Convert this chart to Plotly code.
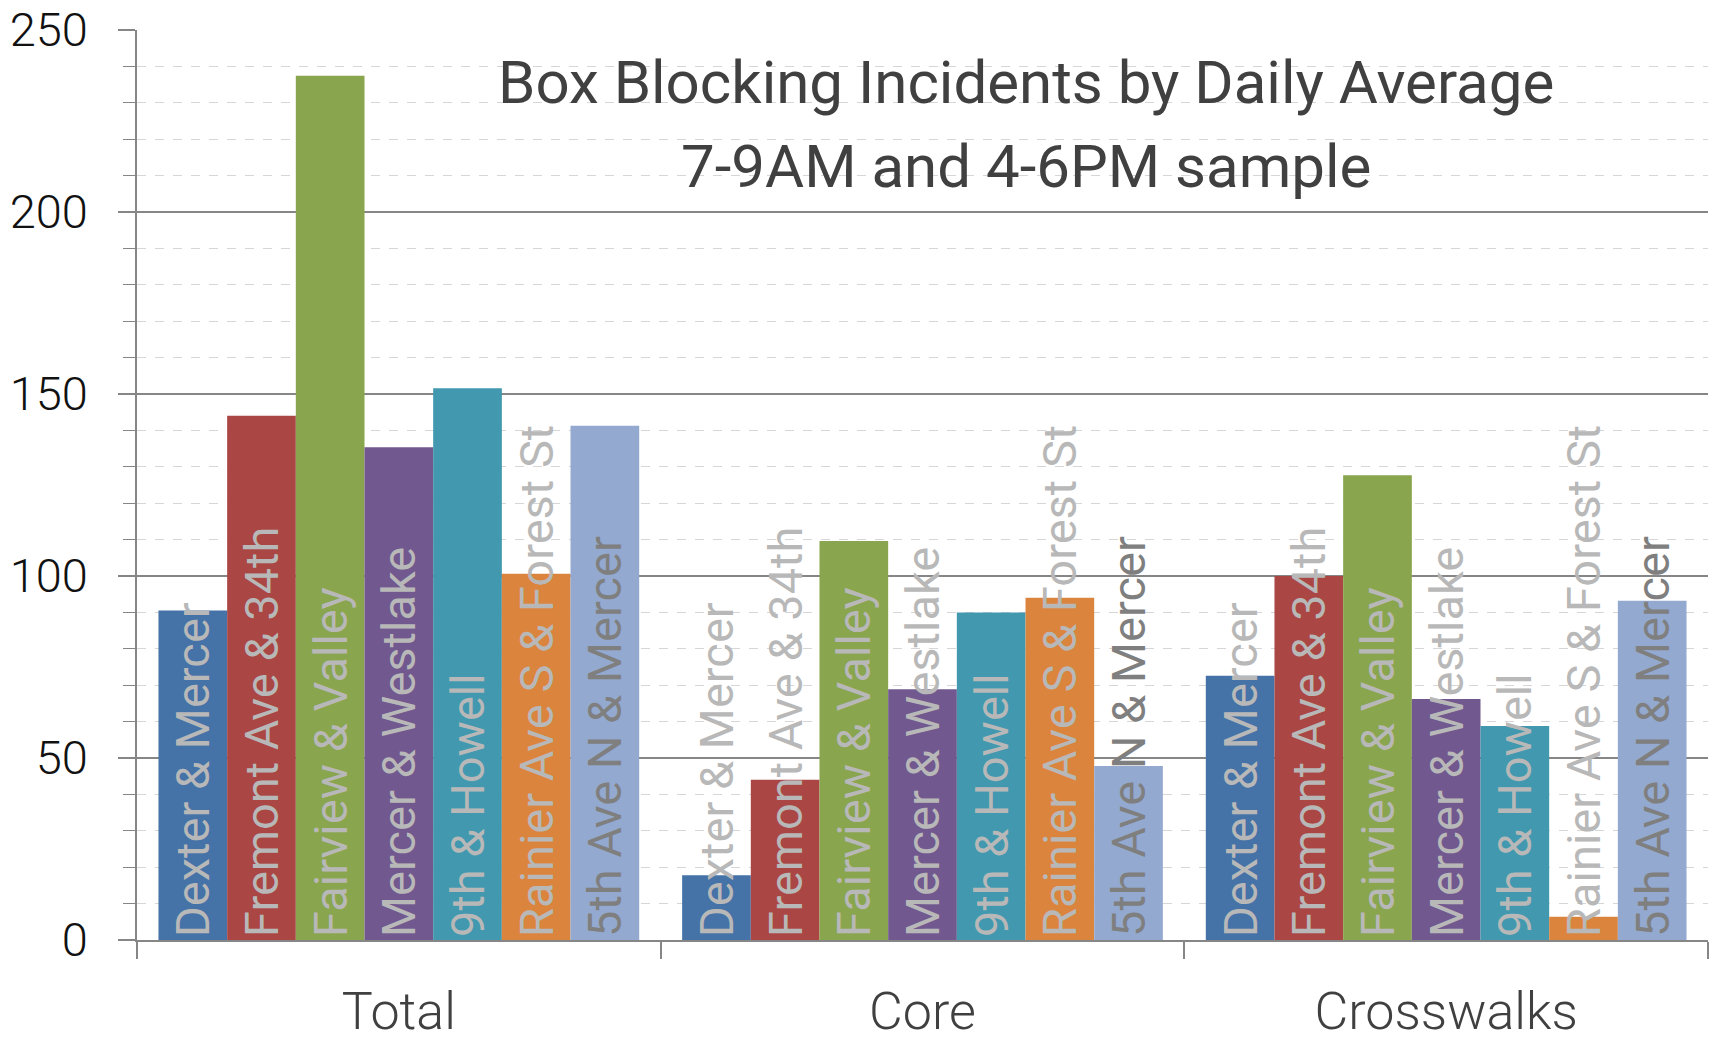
import plotly.graph_objects as go

categories = ["Total", "Core", "Crosswalks"]
locations = ["Dexter & Mercer", "Fremont Ave & 34th", "Fairview & Valley",
             "Mercer & Westlake", "9th & Howell", "Rainier Ave S & Forest St",
             "5th Ave N & Mercer"]
dexter_mercer = [90.5, 17.8, 72.6]
fremont_34th = [144.0, 44.0, 100.0]
fairview_valley = [237.4, 109.6, 127.7]
mercer_westlake = [135.4, 68.9, 66.2]
ninth_howell = [151.6, 90.0, 58.8]
rainier_forest = [100.6, 94.0, 6.4]
fifth_mercer = [141.3, 47.8, 93.2]
series_values = [dexter_mercer, fremont_34th, fairview_valley, mercer_westlake,
                 ninth_howell, rainier_forest, fifth_mercer]
bar_colors = ["#4572A7", "#AA4643", "#89A54E", "#71588F", "#4198AF", "#DB843D", "#93A9CF"]
label_colors = ["#b8b8b8", "#b8b8b8", "#b8b8b8", "#b8b8b8", "#b8b8b8", "#b8b8b8", "#7f7f7f"]
y_ticks = [0, 50, 100, 150, 200, 250]
title_lines = ["Box Blocking Incidents by Daily Average", "7-9AM and 4-6PM sample"]

FONT = "Roboto"

fig = go.Figure()
for name, vals, col, tcol in zip(locations, series_values, bar_colors, label_colors):
    fig.add_trace(go.Bar(
        x=categories, y=vals, name=name,
        marker=dict(color=col, line=dict(width=0)),
        text=[name] * len(vals),
        textposition="inside",
        insidetextanchor="start",
        textangle=-90,
        constraintext="none",
        insidetextfont=dict(family=FONT, size=47, color=tcol),
        cliponaxis=False,
    ))

fig.update_layout(
    width=1718, height=1043,
    margin=dict(l=129, r=18, t=22, b=111),
    paper_bgcolor="white", plot_bgcolor="white",
    barmode="group", bargap=0.082, bargroupgap=0,
    showlegend=False,
    font=dict(family=FONT),
    xaxis=dict(
        type="category",
        automargin=False,
        showgrid=False,
        showline=True, linecolor="#868686", linewidth=1.5,
        ticks="outside", tickson="boundaries", ticklen=17, tickwidth=1.5, tickcolor="#868686",
        tickfont=dict(family=FONT, size=52, color="#404040", weight=300),
        ticklabelstandoff=25,
        ticklabeloverflow="allow",
    ),
    yaxis=dict(
        range=[0, 250],
        automargin=False,
        tickvals=y_ticks,
        showgrid=True, gridcolor="#868686", gridwidth=1.5,
        showline=True, linecolor="#868686", linewidth=1.5,
        zeroline=False,
        ticks="outside", ticklen=17, tickwidth=1.5, tickcolor="#868686",
        tickfont=dict(family=FONT, size=47, color="#111111", weight=300),
        ticklabelstandoff=21,
        ticklabeloverflow="allow",
        minor=dict(dtick=10, showgrid=True, gridcolor="#d6d6d6", griddash="dash",
                   gridwidth=1.3, ticks="outside", ticklen=12, tickcolor="#868686",
                   tickwidth=1.3),
    ),
)

# white box behind the title (hides gridlines)
fig.add_shape(type="rect", xref="paper", yref="y",
              x0=0.2235, x1=0.9095, y0=205, y1=248.6,
              fillcolor="white", line=dict(width=0), layer="between")

fig.add_annotation(text=title_lines[0], xref="paper", yref="paper",
                   x=0.566, y=0.9425, xanchor="center", yanchor="middle", showarrow=False,
                   font=dict(family=FONT, size=60, color="#404040"))
fig.add_annotation(text=title_lines[1], xref="paper", yref="paper",
                   x=0.566, y=0.850, xanchor="center", yanchor="middle", showarrow=False,
                   font=dict(family=FONT, size=60, color="#404040"))

fig.write_html("out.html")
